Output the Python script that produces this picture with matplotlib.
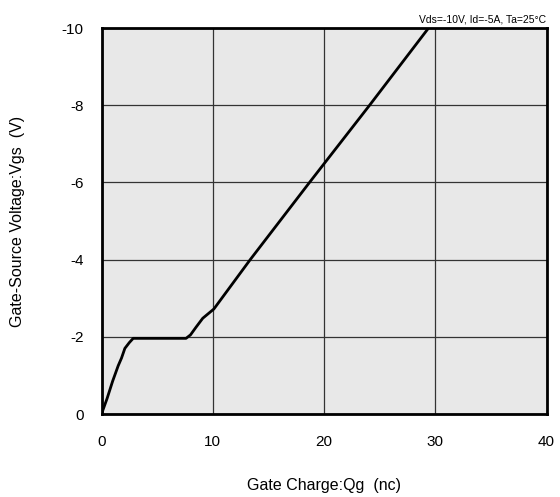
import numpy as np
from matplotlib import pyplot as plt

plt.rcParams['font.family'] = ['Liberation Sans', 'DejaVu Sans']
plt.rcParams['axes.unicode_minus'] = False

# gate charge curve
qg = [0, 0.5, 1.0, 1.5, 1.8, 2.1, 2.5, 2.85, 4.0, 6.0, 7.6, 8.0, 8.5, 9.1, 10.1,
      13.37, 18.7, 24.1, 29.4]
vgs = [0, -0.4, -0.85, -1.25, -1.45, -1.7, -1.85, -1.96, -1.96, -1.96, -1.96,
       -2.05, -2.25, -2.48, -2.72, -4.0, -6.0, -8.0, -10.0]

x_ticks = [0, 10, 20, 30, 40]
y_ticks = [0, -2, -4, -6, -8, -10]

fig = plt.figure(figsize=(5.6, 4.97), dpi=100)
ax = fig.add_axes([101.5 / 560, 1 - 414 / 497, 445 / 560, 386 / 497])
ax.set_facecolor('#e8e8e8')
ax.plot(qg, vgs, color='black', linewidth=2)
ax.set_xlim(0, 40)
ax.set_ylim(0, -10)
ax.set_xticks(x_ticks)
ax.set_yticks(y_ticks)
ax.grid(color='#333333', linewidth=0.9)
for s in ax.spines.values():
    s.set_linewidth(2)
ax.tick_params(length=0, labelsize=11)
ax.tick_params(axis='x', pad=15)
ax.tick_params(axis='y', pad=13)
ax.set_xlabel('Gate Charge:Qg  (nc)', fontsize=11.5, labelpad=21)
ax.set_ylabel('Gate-Source Voltage:Vgs  (V)', fontsize=11.5, labelpad=26)
ax.text(1.0, 1.01, 'Vds=-10V, Id=-5A, Ta=25\u00b0C', transform=ax.transAxes,
        ha='right', va='bottom', fontsize=7.5)

plt.savefig('out.png')
